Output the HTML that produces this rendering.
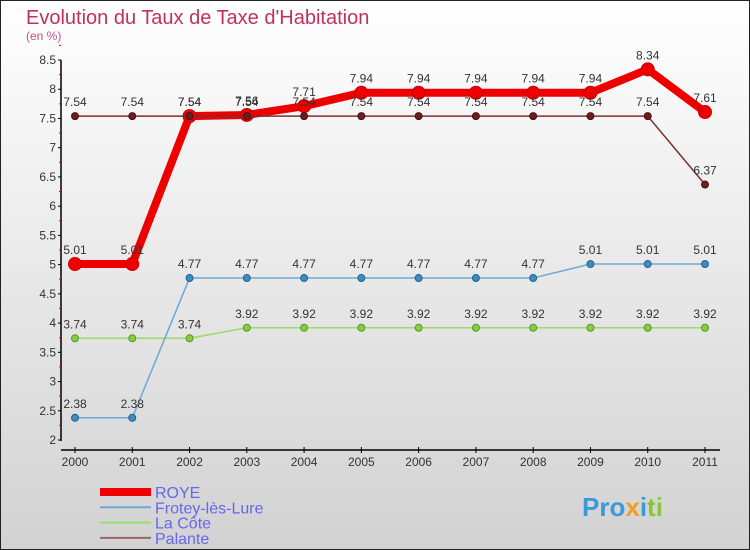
<!DOCTYPE html>
<html><head><meta charset="utf-8"><style>
body{margin:0}
#c{width:750px;height:550px;position:relative;overflow:hidden;font-family:"Liberation Sans",sans-serif}
</style></head><body>
<div id="c">
<svg id="s" width="750" height="550" xmlns="http://www.w3.org/2000/svg">
<defs><linearGradient id="bg" x1="0" y1="0" x2="0" y2="1"><stop offset="0" stop-color="#ffffff"/><stop offset="1" stop-color="#d2d2d2"/></linearGradient></defs>
<rect x="0.5" y="0.5" width="749" height="549" fill="url(#bg)" stroke="#222"/>
<text x="26" y="24" font-size="20" fill="#c03060">Evolution du Taux de Taxe d'Habitation</text>
<text x="26" y="40" font-size="12" fill="#c05080">(en %)</text>
<g id="axes"></g><g id="series"></g><g id="legend"></g>
<text x="582" y="516" font-size="26" font-weight="bold" fill="#3a9ad9">Pro<tspan fill="#f0a020">x</tspan><tspan fill="#3a9ad9">i</tspan><tspan fill="#8cc43c">ti</tspan></text>
</svg></div>
<script>
const years=["2000","2001","2002","2003","2004","2005","2006","2007","2008","2009","2010","2011"];
const roye=[5.01,5.01,7.54,7.56,7.71,7.94,7.94,7.94,7.94,7.94,8.34,7.61];
const frotey=[2.38,2.38,4.77,4.77,4.77,4.77,4.77,4.77,4.77,5.01,5.01,5.01];
const lacote=[3.74,3.74,3.74,3.92,3.92,3.92,3.92,3.92,3.92,3.92,3.92,3.92];
const palante=[7.54,7.54,7.54,7.54,7.54,7.54,7.54,7.54,7.54,7.54,7.54,6.37];
const yTicks=[2,2.5,3,3.5,4,4.5,5,5.5,6,6.5,7,7.5,8,8.5];
const NS="http://www.w3.org/2000/svg";
function X(i){return 75+i*(705-75)/(years.length-1);}
function Y(v){return 440-(v-2)*(380/6.5);}
function mk(tag,attrs,parent){const e=document.createElementNS(NS,tag);for(const k in attrs)e.setAttribute(k,attrs[k]);parent.appendChild(e);return e;}
function lbl(v){return String(v).replace('.','.');}
const ax=document.getElementById('axes');
let yl=mk('line',{x1:61,y1:60,x2:61,y2:441,stroke:'#000','stroke-width':1.5},ax);


yTicks.forEach(t=>{
  mk('line',{x1:58,y1:Y(t),x2:61,y2:Y(t),stroke:'#000'},ax);
  const tx=mk('text',{x:56,y:Y(t)+4,'font-size':12,'text-anchor':'end',fill:'#333'},ax);
  tx.textContent=t;
  
  
  mk('line',{x1:59,y1:Y(t+0.25),x2:61,y2:Y(t+0.25),stroke:'#e00'},ax);
});
let xl=mk('line',{x1:61,y1:450,x2:720,y2:450,stroke:'#000','stroke-width':1.5},ax);


years.forEach((y,i)=>{
  mk('line',{x1:X(i),y1:447,x2:X(i),y2:453,stroke:'#000'},ax);
  const tx=mk('text',{x:X(i),y:466,'font-size':12,'text-anchor':'middle',fill:'#333'},ax);
  tx.textContent=y;
  
  
});
const sg=document.getElementById('series');
function series(name,data,color,w,r,dot,stroke){
  const g=mk('g',{},sg);
  
  
  mk('polyline',{points:data.map((v,i)=>X(i)+','+Y(v)).join(' '),fill:'none',stroke:color,'stroke-width':w,'stroke-linejoin':'round'},g);
  data.forEach((v,i)=>{
    const c=mk('circle',{cx:X(i),cy:Y(v),r:r,fill:dot,stroke:stroke,'stroke-width':1},g);
    
    
    const t=mk('text',{x:X(i),y:Y(v)-10,'font-size':12,'text-anchor':'middle',fill:'#333'},g);
    t.textContent=String(v).replace('.','.');
    
    
  });
}
series('la-cote',lacote,'#99dd66',1.5,3.5,'#88cc44','#559922');
series('frotey',frotey,'#6fa8d0',1.5,3.5,'#3d8cc4','#24608c');
series('roye',roye,'#ee0000',8,6.5,'#ee0000','#cc0000');
series('palante',palante,'#7a3030',1.5,3.5,'#6a1f1f','#4a1010');
const lg=document.getElementById('legend');
[['ROYE','#ee0000',8],['Frotey-lès-Lure','#6fa8d0',2],['La Côte','#99dd66',2],['Palante','#996666',2]].forEach((d,i)=>{
  const y=492+i*15.3;
  const g=mk('g',{},lg);
  
  
  mk('line',{x1:100,y1:y,x2:151,y2:y,stroke:d[1],'stroke-width':d[2]},g);
  const t=mk('text',{x:155,y:y+6,'font-size':16,fill:'#6666ee'},g);
  t.textContent=d[0];
});
</script>
</body></html>
